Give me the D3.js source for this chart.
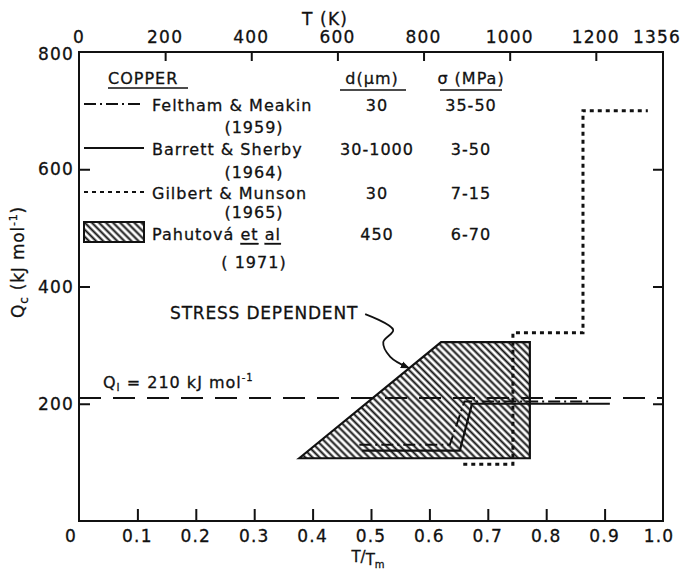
<!DOCTYPE html>
<html>
<head>
<meta charset="utf-8">
<script src="https://cdn.jsdelivr.net/npm/d3@7"></script>
<style>
  body { margin: 0; background: #fff; }
  svg text { font-family: "DejaVu Sans", sans-serif; fill: #111; stroke: #111; stroke-width: 0.3px; }
</style>
</head>
<body>
<svg id="chart" width="685" height="571"></svg>
<script>
// ---- axis ticks ----
const homologousTicks = [0, 0.1, 0.2, 0.3, 0.4, 0.5, 0.6, 0.7, 0.8, 0.9, 1.0];
const homologousLabels = ["0", "0.1", "0.2", "0.3", "0.4", "0.5", "0.6", "0.7", "0.8", "0.9", "1.0"];
const kelvinTicks = [0, 200, 400, 600, 800, 1000, 1200, 1356];
const meltingPointK = 1356;
const energyTicks = [200, 400, 600, 800];

// ---- lattice diffusion energy ----
const latticeQ = 210;

// ---- creep activation energy, Q_c (kJ/mol) vs T/Tm ----
// Pahutová et al. (1971): stress dependent envelope
const pahutovaT = [0.377, 0.620, 0.772, 0.772];
const pahutovaQ = [107, 305, 305, 107];
// Barrett & Sherby (1964)
const barrettT = [0.485, 0.652, 0.673, 0.909];
const barrettQ = [120, 120, 200, 200];
// Feltham & Meakin (1959)
const felthamT = [0.480, 0.635, 0.660, 0.875];
const felthamQ = [130, 130, 204, 204];
// Gilbert & Munson (1965)
const gilbertT = [0.658, 0.743, 0.743, 0.863, 0.863, 0.974];
const gilbertQ = [97, 97, 321, 321, 700, 700];

// ---- key ----
const legendAuthors = ["Feltham & Meakin", "Barrett & Sherby", "Gilbert & Munson", "Pahutová"];
const legendYears = ["(1959)", "(1964)", "(1965)", "( 1971)"];
const grainSizes = ["30", "30-1000", "30", "450"];
const stressRanges = ["35-50", "3-50", "7-15", "6-70"];

// ---- "stress dependent" pointer, in data units ----
const pointerT = [0.490, 0.538, 0.521, 0.533, 0.565];
const pointerQ = [353, 326, 305, 280, 261];
const pointerLabel = "STRESS DEPENDENT";
const pointerLabelAt = [0.156, 355];

const svg = d3.select("#chart");
const plot = { left: 79, right: 663, top: 52, bottom: 521 };
const ink = "#111";

const x = d3.scaleLinear().domain([0, 1]).range([plot.left, plot.right]);
const xK = d3.scaleLinear().domain([0, meltingPointK]).range([plot.left, plot.right]);
const y = d3.scaleLinear().domain([0, 800]).range([plot.bottom, plot.top]);

const defs = svg.append("defs");
const hatch = defs.append("pattern")
  .attr("id", "hatch")
  .attr("patternUnits", "userSpaceOnUse")
  .attr("width", 5).attr("height", 5)
  .attr("patternTransform", "rotate(-45)");
hatch.append("rect").attr("width", 5).attr("height", 5).attr("fill", "#fff");
hatch.append("line")
  .attr("x1", 2.5).attr("y1", -1).attr("x2", 2.5).attr("y2", 6)
  .attr("stroke", ink).attr("stroke-width", 2);

const line = d3.line().x(d => x(d[0])).y(d => y(d[1]));
const zip = (a, b) => a.map((v, i) => [v, b[i]]);

// ---- frame and axes ----
const bottomAxis = d3.axisBottom(x).tickValues(homologousTicks.slice(1, -1)).tickSize(-12).tickFormat("");
const topAxis = d3.axisTop(xK).tickValues(kelvinTicks.slice(1, -1)).tickSize(-9).tickFormat("");
const leftAxis = d3.axisLeft(y).tickValues(energyTicks.slice(0, -1)).tickSize(-11).tickFormat("");
const rightAxis = d3.axisRight(y).tickValues(energyTicks.slice(0, -1)).tickSize(-10).tickFormat("");

function styleAxis(g) {
  g.select(".domain").remove();
  g.selectAll(".tick line").attr("stroke", ink).attr("stroke-width", 2);
}
svg.append("g").attr("transform", `translate(0,${plot.bottom})`).call(bottomAxis).call(styleAxis);
svg.append("g").attr("transform", `translate(0,${plot.top})`).call(topAxis).call(styleAxis);
svg.append("g").attr("transform", `translate(${plot.left},0)`).call(leftAxis).call(styleAxis);
svg.append("g").attr("transform", `translate(${plot.right},0)`).call(rightAxis).call(styleAxis);

svg.append("rect")
  .attr("x", plot.left).attr("y", plot.top)
  .attr("width", plot.right - plot.left).attr("height", plot.bottom - plot.top)
  .attr("fill", "none").attr("stroke", ink).attr("stroke-width", 2);

// tick labels
const tickFont = { size: 17, spacing: 1.2 };
svg.append("g").selectAll("text").data(homologousTicks).join("text")
  .attr("x", (d, i) => x(d) + (i === 0 ? -8 : (i === homologousTicks.length - 1 ? -4 : 0)))
  .attr("y", 536)
  .attr("text-anchor", "middle").attr("dominant-baseline", "central")
  .attr("font-size", tickFont.size).attr("letter-spacing", tickFont.spacing)
  .text((d, i) => homologousLabels[i]);

svg.append("g").selectAll("text").data(kelvinTicks).join("text")
  .attr("x", d => xK(d) + (d === meltingPointK ? -6 : 0))
  .attr("y", 37)
  .attr("text-anchor", "middle").attr("dominant-baseline", "central")
  .attr("font-size", tickFont.size).attr("letter-spacing", tickFont.spacing)
  .text(d => d);

svg.append("g").selectAll("text").data(energyTicks).join("text")
  .attr("x", plot.left - 5)
  .attr("y", d => y(d) + (d === 800 ? 2 : 0))
  .attr("text-anchor", "end").attr("dominant-baseline", "central")
  .attr("font-size", tickFont.size).attr("letter-spacing", tickFont.spacing)
  .text(d => d);

// axis titles
const tTitle = svg.append("text")
  .attr("x", 368).attr("y", 562)
  .attr("text-anchor", "middle").attr("font-size", 15);
tTitle.append("tspan").text("T/");
tTitle.append("tspan").attr("dy", 3).text("T");
tTitle.append("tspan").attr("font-size", 10).attr("dy", 3).text("m");

svg.append("text")
  .attr("x", 325).attr("y", 19)
  .attr("text-anchor", "middle").attr("dominant-baseline", "central")
  .attr("font-size", 17).attr("letter-spacing", 1.2)
  .text("T (K)");

const qTitle = svg.append("text")
  .attr("transform", "translate(24,262) rotate(-90)")
  .attr("text-anchor", "middle").attr("font-size", 17).attr("letter-spacing", 0.8);
qTitle.append("tspan").text("Q");
qTitle.append("tspan").attr("font-size", 12).attr("dy", 4).text("c");
qTitle.append("tspan").attr("dy", -4).text(" (kJ mol");
qTitle.append("tspan").attr("font-size", 11).attr("dy", -7).text("-1");
qTitle.append("tspan").attr("dy", 7).text(")");

// ---- data ----
svg.append("path")
  .datum(zip(pahutovaT, pahutovaQ))
  .attr("d", d => line(d) + "Z")
  .attr("fill", "url(#hatch)").attr("stroke", ink).attr("stroke-width", 2.2)
  .attr("stroke-linejoin", "miter");

// lattice diffusion energy
svg.append("path")
  .datum([[0, latticeQ], [1, latticeQ]])
  .attr("d", line)
  .attr("fill", "none").attr("stroke", ink).attr("stroke-width", 2)
  .attr("stroke-dasharray", "22,12");

svg.append("path")
  .datum(zip(felthamT, felthamQ))
  .attr("d", line)
  .attr("fill", "none").attr("stroke", ink).attr("stroke-width", 2)
  .attr("stroke-dasharray", "12,4,2,4");

svg.append("path")
  .datum(zip(barrettT, barrettQ))
  .attr("d", line)
  .attr("fill", "none").attr("stroke", ink).attr("stroke-width", 2.2);

svg.append("path")
  .datum(zip(gilbertT, gilbertQ))
  .attr("d", line)
  .attr("fill", "none").attr("stroke", ink).attr("stroke-width", 3)
  .attr("stroke-dasharray", "4,4");

// lattice label
const qlLabel = svg.append("text")
  .attr("x", 103).attr("y", 388)
  .attr("font-size", 16).attr("letter-spacing", 1);
qlLabel.append("tspan").text("Q");
qlLabel.append("tspan").attr("font-size", 11).attr("dy", 3).text("l");
qlLabel.append("tspan").attr("dy", -3).text(` = ${latticeQ} kJ  mol`);
qlLabel.append("tspan").attr("font-size", 10).attr("dy", -7).text("-1");

// pointer
svg.append("text")
  .attr("x", x(pointerLabelAt[0])).attr("y", y(pointerLabelAt[1]))
  .attr("dominant-baseline", "central")
  .attr("font-size", 17).attr("letter-spacing", 0.8)
  .text(pointerLabel);

defs.append("marker")
  .attr("id", "arrowhead")
  .attr("viewBox", "0 0 10 10").attr("refX", 9).attr("refY", 5)
  .attr("markerWidth", 9).attr("markerHeight", 9)
  .attr("markerUnits", "userSpaceOnUse")
  .attr("orient", "auto")
  .append("path").attr("d", "M0,1 L10,5 L0,9 Z").attr("fill", ink);

svg.append("path")
  .datum(zip(pointerT, pointerQ))
  .attr("d", d3.line().x(d => x(d[0])).y(d => y(d[1])).curve(d3.curveCatmullRom.alpha(0.5)))
  .attr("fill", "none").attr("stroke", ink).attr("stroke-width", 1.8)
  .attr("marker-end", "url(#arrowhead)");

// ---- key ----
const key = svg.append("g").attr("font-size", 16).attr("letter-spacing", 1);
const rowY = [104, 148, 192, 233];
const yearY = [127, 172, 212, 262];

key.append("text").attr("x", 108).attr("y", 78).attr("dominant-baseline", "central").text("COPPER");
key.append("line").attr("x1", 108).attr("x2", 188).attr("y1", 88).attr("y2", 88).attr("stroke", ink).attr("stroke-width", 1.6);

const dHead = key.append("text").attr("x", 372).attr("y", 78).attr("text-anchor", "middle").attr("dominant-baseline", "central");
dHead.append("tspan").text("d(");
dHead.append("tspan").text("μ");
dHead.append("tspan").text("m)");
key.append("line").attr("x1", 340).attr("x2", 406).attr("y1", 90).attr("y2", 90).attr("stroke", ink).attr("stroke-width", 1.6);

key.append("text").attr("x", 471).attr("y", 78).attr("text-anchor", "middle").attr("dominant-baseline", "central").text("σ (MPa)");
key.append("line").attr("x1", 440).attr("x2", 502).attr("y1", 90).attr("y2", 90).attr("stroke", ink).attr("stroke-width", 1.6);

const keyStyles = [
  { dash: "12,4,2,4", width: 2 },
  { dash: null, width: 2 },
  { dash: "4,4", width: 2 },
  null
];
keyStyles.forEach((s, i) => {
  if (s) {
    key.append("line")
      .attr("x1", 84).attr("x2", 144).attr("y1", rowY[i]).attr("y2", rowY[i])
      .attr("stroke", ink).attr("stroke-width", s.width)
      .attr("stroke-dasharray", s.dash);
  } else {
    key.append("rect")
      .attr("x", 84).attr("y", rowY[i] - 11).attr("width", 60).attr("height", 20)
      .attr("fill", "url(#hatch)").attr("stroke", ink).attr("stroke-width", 2);
  }
});

legendAuthors.forEach((a, i) => {
  const t = key.append("text").attr("x", 152).attr("y", rowY[i] + 1).attr("dominant-baseline", "central").text(a);
  if (i === 3) {
    t.append("tspan").text(" ");
    t.append("tspan").attr("text-decoration", "underline").text("et");
    t.append("tspan").text(" ");
    t.append("tspan").attr("text-decoration", "underline").text("al");
  }
  key.append("text").attr("x", 254).attr("y", yearY[i]).attr("text-anchor", "middle").attr("dominant-baseline", "central").text(legendYears[i]);
  key.append("text").attr("x", 377).attr("y", rowY[i] + 1).attr("text-anchor", "middle").attr("dominant-baseline", "central").text(grainSizes[i]);
  key.append("text").attr("x", 471).attr("y", rowY[i] + 1).attr("text-anchor", "middle").attr("dominant-baseline", "central").text(stressRanges[i]);
});
</script>
</body>
</html>
